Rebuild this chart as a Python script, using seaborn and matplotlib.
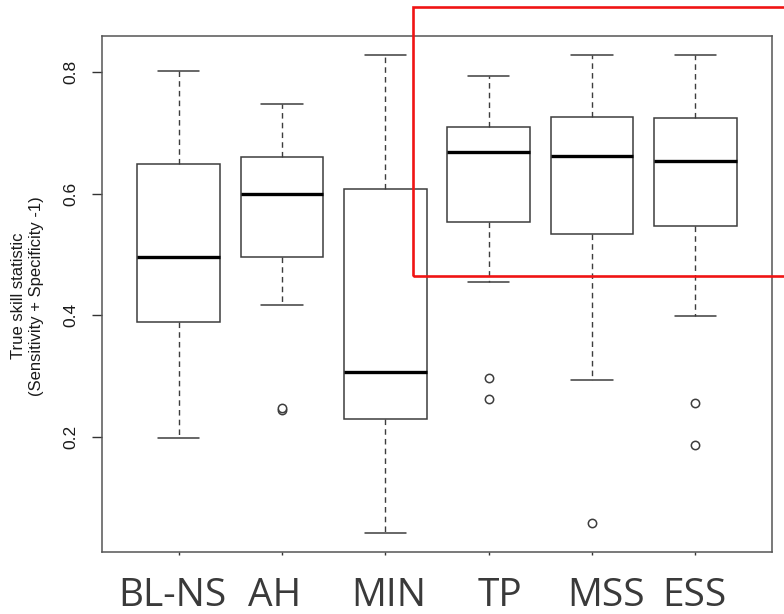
import numpy as np
import pandas as pd
import matplotlib
matplotlib.use("Agg")
import matplotlib.pyplot as plt
import seaborn as sns
from matplotlib.patches import Rectangle
from matplotlib.transforms import blended_transform_factory, ScaledTranslation

# Five-number summaries of the true skill statistic per method
methods = ["BL-NS", "AH", "MIN", "TP", "MSS", "ESS"]
whisker_low = [0.198, 0.417, 0.042, 0.454, 0.294, 0.398]
q1 = [0.389, 0.496, 0.229, 0.554, 0.533, 0.547]
median = [0.496, 0.600, 0.307, 0.668, 0.662, 0.653]
q3 = [0.649, 0.660, 0.607, 0.710, 0.726, 0.724]
whisker_high = [0.802, 0.748, 0.828, 0.794, 0.828, 0.828]
outliers = [[], [0.247, 0.244], [], [0.297, 0.263], [0.058], [0.256, 0.187]]

# Horizontal nudges (pixels) of the big category labels
label_nudge = [-6, -7, 3, 11, 14, -1]


def summary_sample(lo, a, m, b, hi, extra, half=10):
    """Observations whose quartiles, median and whisker ends equal the summary."""
    low = sorted(extra) + [lo] + [a] * (half - 1 - len(extra))
    high = [b] * (half - 1) + [hi]
    return low + [m] + high


rows = []
for name, lo, a, m, b, hi, ex in zip(methods, whisker_low, q1, median, q3,
                                     whisker_high, outliers):
    for v in summary_sample(lo, a, m, b, hi, ex):
        rows.append({"method": name, "tss": v})
df = pd.DataFrame(rows)

sns.set_theme(style="white")
plt.rcParams["font.family"] = ["Liberation Sans", "DejaVu Sans"]

W, H = 784, 614
fig = plt.figure(figsize=(W / 100, H / 100), dpi=100)
ax = fig.add_axes([102 / W, 1 - 552 / H, 670 / W, 516 / H])

line_col = "#3d3d3d"
sns.boxplot(
    data=df, x="method", y="tss", order=methods, ax=ax,
    width=0.8, color="white", linecolor=line_col, linewidth=1.1,
    whis=1.5, fliersize=6,
    whiskerprops=dict(linestyle=(0, (4, 3)), linewidth=1.0),
    medianprops=dict(color="black", linewidth=2.4),
    flierprops=dict(marker="o", markerfacecolor="white",
                    markeredgecolor=line_col, markeredgewidth=1.1),
)

ax.set_xlim(-0.74, 5.74)
ax.set_ylim(0.0106, 0.8594)

for sp in ax.spines.values():
    sp.set_visible(True)
    sp.set_color("#555555")
    sp.set_linewidth(1.1)

ax.set_yticks([0.2, 0.4, 0.6, 0.8])
ax.set_yticklabels(["0.2", "0.4", "0.6", "0.8"], rotation=90, va="center",
                   fontsize=12.5, color="#1a1a1a")
ax.tick_params(axis="y", direction="out", length=7, width=1,
               color="#333333", pad=10, left=True)
ax.set_xticks(range(len(methods)))
ax.set_xticklabels([])
ax.tick_params(axis="x", direction="out", length=2.5, width=1,
               color="#333333", bottom=True)
ax.set_xlabel("")
ax.set_ylabel("")

# Large method names under the axis
trans = blended_transform_factory(ax.transData, fig.transFigure)
for i, name in enumerate(methods):
    off = ScaledTranslation(label_nudge[i] / 100, 0, fig.dpi_scale_trans)
    fig.text(i, 1 - 606 / H, name, transform=trans + off,
             ha="center", va="baseline", fontsize=28,
             family=["Open Sans", "DejaVu Sans"], color="#3a3a3a")

fig.text(27.5 / W, 1 - 296 / H,
         "True skill statistic\n(Sensitivity + Specificity -1)",
         rotation=90, ha="center", va="center", multialignment="center",
         fontsize=12, color="#1a1a1a")

# Highlight frame around the last three methods
fig.patches.append(Rectangle((413 / W, 1 - 276 / H), (W + 10 - 413) / W,
                             (276 - 7) / H, transform=fig.transFigure,
                             fill=False, edgecolor="#f01414", linewidth=1.9,
                             clip_on=False))

fig.savefig("out.png", dpi=100)
